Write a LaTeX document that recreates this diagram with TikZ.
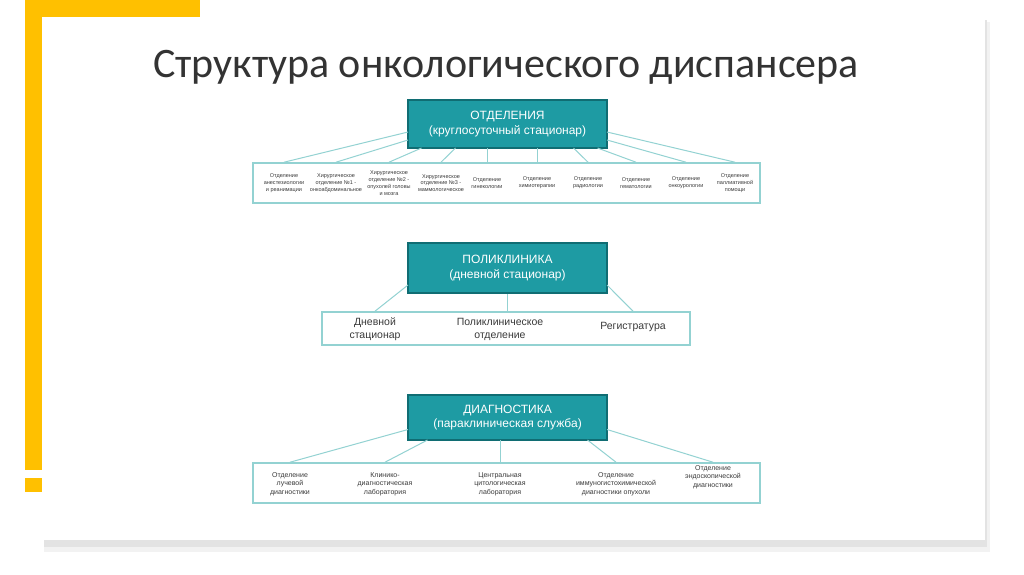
\documentclass[tikz,border=0pt]{standalone}
\usepackage{fontspec}
\setmainfont{Liberation Sans}
\newfontfamily\titlefont{Carlito}
\usetikzlibrary{calc}
\definecolor{Gold}{HTML}{FFC000}
\definecolor{Teal}{HTML}{1E9BA3}
\definecolor{TealDark}{HTML}{106D73}
\definecolor{TealLine}{HTML}{93D2D2}
\definecolor{Ink}{HTML}{3A3A3A}
\tikzset{
  head/.style={draw=TealDark,line width=2.2pt,fill=Teal,text=white,minimum width=199pt,align=center,font=\fontsize{12}{14.5}\selectfont,inner sep=0pt},
  rowbox/.style={draw=TealLine,line width=1.6pt,fill=white,inner sep=0pt},
  item/.style={text=Ink,align=center,font=\fontsize{5.5}{6.8}\selectfont,inner sep=0pt},
  itemmid/.style={item,font=\fontsize{10.5}{13}\selectfont},
  itemlow/.style={item,font=\fontsize{7}{8.6}\selectfont},
  link/.style={draw=TealLine,line width=1pt}
}
\begin{document}
\begin{tikzpicture}[x=1pt,y=-1pt]
  \useasboundingbox (0,0) rectangle (1024,574);
  \fill[white] (0,0) rectangle (1024,574);
  % slide panel and frame
  \fill[black!5] (44,22) rectangle (990,552);
  \fill[black!11] (44,20) rectangle (987,547);
  \fill[white] (42,17) rectangle (985,540);
  \fill[Gold] (25,0) rectangle (200,17);
  \fill[Gold] (25,0) rectangle (42,470);
  \fill[Gold] (25,478) rectangle (42,492);
  \node[font=\titlefont\fontsize{42}{44}\selectfont,text=black!80] (title) at (506,67) {Структура онкологического диспансера};
  % stationary departments
  \node[head,minimum height=48pt] (otd) at (507.5,124) {ОТДЕЛЕНИЯ\\(круглосуточный стационар)};
  \node[rowbox,minimum width=507pt,minimum height=40pt] (rowotd) at (506.5,183) {};
  \foreach \i/\x/\t in {1/284/{Отделение\\анестезиологии\\и реанимации},
      2/336/{Хирургическое\\отделение №1 -\\онкоабдоминальное},
      3/389/{Хирургическое\\отделение №2 -\\опухолей головы\\и мозга},
      4/441/{Хирургическое\\отделение №3 -\\маммологическое},
      5/487/{Отделение\\гинекологии},
      6/537/{Отделение\\химиотерапии},
      7/588/{Отделение\\радиологии},
      8/636/{Отделение\\гематологии},
      9/686/{Отделение\\онкоурологии},
      10/735/{Отделение\\паллиативной\\помощи}}
    \node[item] (o\i) at (\x,183) {\t};
  \foreach \i/\dx/\dy in {1/-99.5/8,2/-99.5/16,3/-86/24,4/-52/24,5/-20.5/24,6/29.5/24,7/66/24,8/90/24,9/99.5/16,10/99.5/8}
    \draw[link] ($(otd.center)+(\dx,\dy)$) -- (o\i |- rowotd.north);
  % polyclinic
  \node[head,minimum height=50pt] (pol) at (507.5,268) {ПОЛИКЛИНИКА\\(дневной стационар)};
  \node[rowbox,minimum width=368pt,minimum height=33pt] (rowpol) at (506,328.5) {};
  \node[itemmid] (p1) at (375,329) {Дневной\\стационар};
  \node[itemmid] (p2) at (500,329) {Поликлиническое\\отделение};
  \node[itemmid] (p3) at (633,327) {Регистратура};
  \draw[link] ($(pol.center)+(-99.5,17)$) -- (p1 |- rowpol.north);
  \draw[link] (pol.south) -- (pol.south |- rowpol.north);
  \draw[link] ($(pol.center)+(99.5,17)$) -- (p3 |- rowpol.north);
  % diagnostics
  \node[head,minimum height=45pt] (diag) at (507.5,417.5) {ДИАГНОСТИКА\\(параклиническая служба)};
  \node[rowbox,minimum width=507pt,minimum height=40pt] (rowdiag) at (506.5,483) {};
  \node[itemlow] (d1) at (290,484) {Отделение\\лучевой\\диагностики};
  \node[itemlow] (d2) at (385,484) {Клинико-\\диагностическая\\лаборатория};
  \node[itemlow] (d3) at (500,484) {Центральная\\цитологическая\\лаборатория};
  \node[itemlow] (d4) at (616,484) {Отделение\\иммуногистохимической\\диагностики опухоли};
  \node[itemlow] (d5) at (713,477) {Отделение\\эндоскопической\\диагностики};
  \foreach \i/\dx/\dy in {1/-99.5/12,2/-80/22.5,3/-7.5/22.5,4/80/22.5,5/99.5/12}
    \draw[link] ($(diag.center)+(\dx,\dy)$) -- (d\i |- rowdiag.north);
\end{tikzpicture}
\end{document}
